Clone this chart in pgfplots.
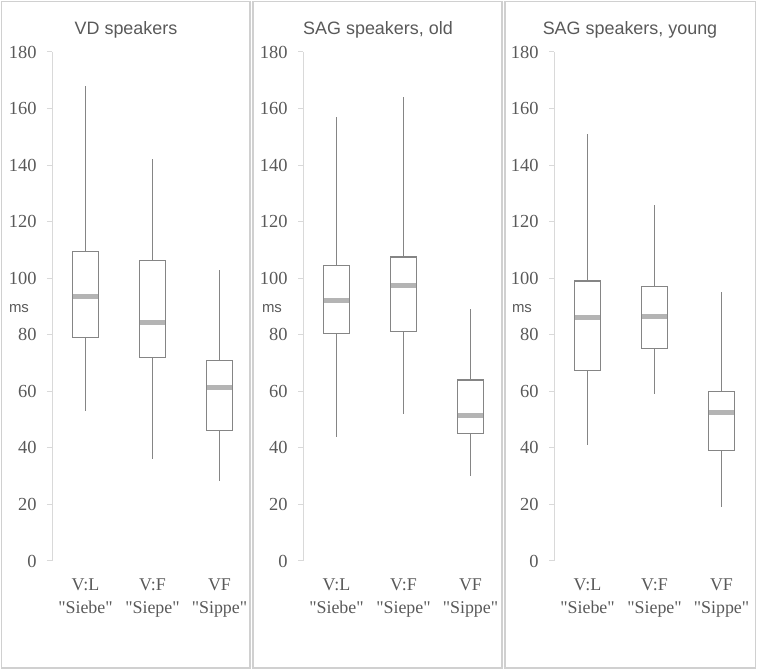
\documentclass[border=0pt]{standalone}
\usepackage{fontspec}
\setmainfont{Liberation Serif}[Ligatures=TeXOff]
\newfontfamily\sansf{Liberation Sans}
\usepackage{pgfplots}
\pgfplotsset{compat=1.18}
\usepgfplotslibrary{statistics}
\definecolor{txt}{HTML}{595959}
\definecolor{boxc}{HTML}{858585}
\definecolor{medc}{HTML}{B4B4B4}
\definecolor{axc}{HTML}{D9D9D9}
\definecolor{framec}{HTML}{D0D0D0}
\pgfplotsset{
  panel/.style={
    scale only axis, width=194.3bp, height=509bp,
    xmin=-0.5, xmax=2.4, ymin=0, ymax=180,
    ytick={0,20,...,180}, xtick={0,1,2},
    xticklabels={{V:L\\"Siebe"},{V:F\\"Siepe"},{VF\\"Sippe"}},
    axis x line*=bottom, axis y line*=left,
    x axis line style={draw=none}, xtick style={draw=none},
    y axis line style={draw=axc, line width=1bp},
    ytick style={draw=axc, line width=1bp},
    tick align=outside, major tick length=5bp,
    /pgf/number format/assume math mode=true,
    yticklabel style={font=\fontsize{18.5}{20}\selectfont, text=txt, xshift=-7bp},
    xticklabel style={font=\fontsize{18}{23}\selectfont, text=txt, align=center, yshift=-9bp},
    clip=false,
    boxplot/draw direction=y,
    boxplot/box extend=0.4,
    boxplot/whisker extend=0,
    boxplot/every median/.style={draw=medc, line width=5bp, shorten <=1.3bp, shorten >=1.3bp},
  },
  bx/.style={draw=boxc, line width=1.1bp, solid, fill=none, mark=none},
}
\begin{document}
\begin{tikzpicture}
% frames
\draw[framec, line width=1.6bp] (1.5bp,3bp) rectangle (250bp,669.5bp);
\draw[framec, line width=1.6bp] (253bp,3bp) rectangle (502bp,669.5bp);
\draw[framec, line width=1.6bp] (505bp,3bp) rectangle (755.5bp,669.5bp);
% panel 1
\begin{axis}[panel, at={(52bp,110bp)}, anchor=south west]
\addplot[bx, boxplot prepared={draw position=0, lower whisker=53, lower quartile=79.1, median=93.5, upper quartile=109.3, upper whisker=168}] coordinates {};
\addplot[bx, boxplot prepared={draw position=1, lower whisker=36, lower quartile=72, median=84.5, upper quartile=106.2, upper whisker=142}] coordinates {};
\addplot[bx, boxplot prepared={draw position=2, lower whisker=28.3, lower quartile=46, median=61.5, upper quartile=70.8, upper whisker=103}] coordinates {};
\end{axis}
% panel 2
\begin{axis}[panel, at={(303bp,110bp)}, anchor=south west]
\addplot[bx, boxplot prepared={draw position=0, lower whisker=44, lower quartile=80.5, median=92, upper quartile=104.5, upper whisker=157}] coordinates {};
\addplot[bx, boxplot prepared={draw position=1, lower whisker=52, lower quartile=81, median=97.5, upper quartile=107.5, upper whisker=164}] coordinates {};
\addplot[bx, boxplot prepared={draw position=2, lower whisker=30, lower quartile=45, median=51.5, upper quartile=64, upper whisker=89}] coordinates {};
\end{axis}
% panel 3
\begin{axis}[panel, at={(554bp,110bp)}, anchor=south west]
\addplot[bx, boxplot prepared={draw position=0, lower whisker=41, lower quartile=67.5, median=86, upper quartile=99, upper whisker=151}] coordinates {};
\addplot[bx, boxplot prepared={draw position=1, lower whisker=59, lower quartile=75, median=86.5, upper quartile=97, upper whisker=126}] coordinates {};
\addplot[bx, boxplot prepared={draw position=2, lower whisker=19, lower quartile=39, median=52.5, upper quartile=60, upper whisker=95}] coordinates {};
\end{axis}
% titles
\node[anchor=base, font=\sansf\fontsize{18}{20}\selectfont, text=txt] at (126bp,636bp) {VD speakers};
\node[anchor=base, font=\sansf\fontsize{18}{20}\selectfont, text=txt] at (378bp,636bp) {SAG speakers, old};
\node[anchor=base, font=\sansf\fontsize{18}{20}\selectfont, text=txt] at (630bp,636bp) {SAG speakers, young};
% ms labels
\node[font=\sansf\fontsize{15}{18}\selectfont, text=txt] at (19bp,362bp) {ms};
\node[font=\sansf\fontsize{15}{18}\selectfont, text=txt] at (272bp,362bp) {ms};
\node[font=\sansf\fontsize{15}{18}\selectfont, text=txt] at (522bp,362bp) {ms};
\pgfresetboundingbox
\useasboundingbox (0,0) rectangle (757bp,671bp);
\end{tikzpicture}
\end{document}
